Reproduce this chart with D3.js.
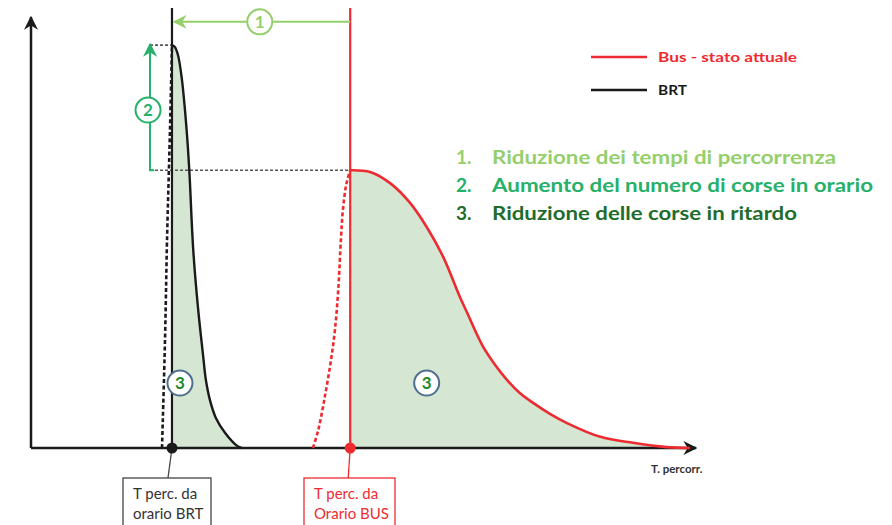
<!DOCTYPE html>
<meta charset="utf-8">
<script src="https://d3js.org/d3.v7.min.js"></script>
<style>
  body { margin: 0; background: #fff; }
  text { font-family: Lato, "Open Sans", sans-serif; }
</style>
<div id="chart"></div>
<script>
// scheduled travel times (x units) and the distributions
const brtSchedule = 21.2;
const busSchedule = 48.0;

const brtLateT = [21.2, 21.6, 22.1, 22.7, 23.4, 23.8, 24.4, 25.1, 25.9, 26.3, 26.9, 27.8, 29.2, 31.0, 31.7];
const brtLateV = [93.7, 93.3, 91.4, 85.6, 74.0, 64.7, 46.0, 32.8, 21.2, 15.8, 11.2, 7.0, 3.5, 0.5, 0];
const brtEarlyT = [19.7, 20.15, 20.45, 20.9, 21.2];
const brtEarlyV = [0, 25, 48, 74, 93.7];

const busLateT = [48.0, 51.0, 54.0, 57.0, 59.5, 62.0, 64.5, 65.6, 68.0, 69.8, 71.6, 73.5, 75.5, 78.1, 80.6, 85.6, 90.5, 95.6, 99.1];
const busLateV = [64.6, 64.2, 61.6, 57.0, 51.4, 44.4, 35.1, 31.4, 23.5, 19.3, 15.8, 12.8, 10.5, 7.9, 5.8, 2.6, 1.2, 0.2, 0];
const busEarlyT = [42.4, 43.2, 44.1, 45.0, 45.7, 46.2, 46.6, 46.9, 47.4, 48.0];
const busEarlyV = [0, 4.2, 11.2, 19.3, 27.4, 36.7, 48.4, 55.3, 61.2, 64.6];

const legendLabels = ["Bus - stato attuale", "BRT"];
const listItems = [
  ["1.", "Riduzione dei tempi di percorrenza"],
  ["2.", "Aumento del numero di corse in orario"],
  ["3.", "Riduzione delle corse in ritardo"]
];
const boxLabels = [["T perc. da", "orario BRT"], ["T perc. da", "Orario BUS"]];
const axisLabel = "T. percorr.";

const width = 892, height = 525;
const RED = "#ee2b30", BLACK = "#1a1a1a", FILL = "#d5e7d3";
const GREEN1 = "#95cf6c", GREEN2 = "#26b068", GREEN3 = "#1f6d2d";

const svg = d3.select("#chart").append("svg")
  .attr("width", width).attr("height", height);

const x = d3.scaleLinear().domain([0, 100]).range([31, 696]);
const y = d3.scaleLinear().domain([0, 100]).range([448, 18]);

const defs = svg.append("defs");
function marker(id, color, size) {
  defs.append("marker").attr("id", id)
    .attr("viewBox", "0 0 10 10").attr("refX", 9).attr("refY", 5)
    .attr("markerWidth", size).attr("markerHeight", size)
    .attr("markerUnits", "userSpaceOnUse").attr("orient", "auto")
    .append("path").attr("d", "M0,0 L10,5 L0,10 L3,5 Z").attr("fill", color);
}
marker("arrBlack", BLACK, 14);
marker("arrG1", GREEN1, 14);
marker("arrG2", GREEN2, 14);

const zip = (t, v) => t.map((d, i) => [d, v[i]]);
const smooth = d3.curveCatmullRom.alpha(0.5);
const line = d3.line().x(d => x(d[0])).y(d => y(d[1])).curve(smooth);
const area = d3.area().x(d => x(d[0])).y0(y(0)).y1(d => y(d[1])).curve(smooth);

// shaded areas (late runs)
svg.append("path").datum(zip(brtLateT, brtLateV)).attr("fill", FILL).attr("d", area);
svg.append("path").datum(zip(busLateT, busLateV)).attr("fill", FILL).attr("d", area);

// dashed helper lines for (2)
const peakBrt = d3.max(brtLateV), peakBus = d3.max(busLateV);
const arrow2X = 17.9;
svg.append("line")
  .attr("x1", x(arrow2X)).attr("x2", x(busSchedule))
  .attr("y1", y(peakBus)).attr("y2", y(peakBus))
  .attr("stroke", "#555").attr("stroke-width", 1.6).attr("stroke-dasharray", "3,2");
svg.append("line")
  .attr("x1", x(arrow2X)).attr("x2", x(brtSchedule))
  .attr("y1", y(peakBrt)).attr("y2", y(peakBrt))
  .attr("stroke", "#555").attr("stroke-width", 1.6).attr("stroke-dasharray", "3,2");

// axes
svg.append("line").attr("x1", x(0)).attr("x2", x(0)).attr("y1", y(0)).attr("y2", y(100.2))
  .attr("stroke", BLACK).attr("stroke-width", 2.5).attr("marker-end", "url(#arrBlack)");
svg.append("line").attr("x1", x(0)).attr("x2", x(100)).attr("y1", y(0)).attr("y2", y(0))
  .attr("stroke", BLACK).attr("stroke-width", 2.5).attr("marker-end", "url(#arrBlack)");

// scheduled time verticals
const topV = 102.3;
svg.append("line").attr("x1", x(brtSchedule)).attr("x2", x(brtSchedule))
  .attr("y1", y(0)).attr("y2", y(topV)).attr("stroke", BLACK).attr("stroke-width", 2.2);
svg.append("line").attr("x1", x(busSchedule)).attr("x2", x(busSchedule))
  .attr("y1", y(0)).attr("y2", y(topV)).attr("stroke", RED).attr("stroke-width", 2.2);

// distributions
svg.append("path").datum(zip(brtEarlyT, brtEarlyV)).attr("fill", "none")
  .attr("stroke", BLACK).attr("stroke-width", 2.6).attr("stroke-dasharray", "4,2.5").attr("d", line);
svg.append("path").datum(zip(busEarlyT, busEarlyV)).attr("fill", "none")
  .attr("stroke", RED).attr("stroke-width", 2.6).attr("stroke-dasharray", "4,2.5").attr("d", line);
svg.append("path").datum(zip(brtLateT, brtLateV)).attr("fill", "none")
  .attr("stroke", BLACK).attr("stroke-width", 2.4).attr("d", line);
svg.append("path").datum(zip(busLateT, busLateV)).attr("fill", "none")
  .attr("stroke", RED).attr("stroke-width", 2.6).attr("d", line);

// annotation 1: travel time reduction
const arrow1V = 99.1;
svg.append("line").attr("x1", x(busSchedule)).attr("x2", x(brtSchedule) + 2)
  .attr("y1", y(arrow1V)).attr("y2", y(arrow1V))
  .attr("stroke", GREEN1).attr("stroke-width", 2).attr("marker-end", "url(#arrG1)");
function badge(cx, cy, label, stroke, color) {
  svg.append("circle").attr("cx", cx).attr("cy", cy).attr("r", 12.5)
    .attr("fill", "#fff").attr("stroke", stroke).attr("stroke-width", 2);
  svg.append("text").attr("x", cx).attr("y", cy).attr("dy", "0.36em")
    .attr("text-anchor", "middle").attr("font-size", 17).attr("font-weight", 700)
    .attr("fill", color).text(label);
}
badge(x((busSchedule + brtSchedule) / 2 - 0.2), y(arrow1V), "1", GREEN1, GREEN1);

// annotation 2: more on-time runs
svg.append("path")
  .attr("d", `M${x(arrow2X) + 4},${y(peakBus)} H${x(arrow2X)} V${y(peakBrt) - 1}`)
  .attr("fill", "none").attr("stroke", GREEN2).attr("stroke-width", 2)
  .attr("marker-end", "url(#arrG2)");
badge(x(arrow2X) - 2, y(78.6), "2", GREEN2, GREEN2);

// annotation 3: late runs
badge(x(22.4), y(15.1), "3", "#4f6f8f", "#1f8a2a");
badge(x(59.5), y(15.1), "3", "#4f6f8f", "#1f8a2a");

// scheduled time dots + label boxes
const boxes = [
  { t: brtSchedule, color: BLACK, text: "#333", labels: boxLabels[0], bx: 123, bw: 88, lx: -4 },
  { t: busSchedule, color: RED, text: RED, labels: boxLabels[1], bx: 304, bw: 91, lx: -2 }
];
boxes.forEach(b => {
  svg.append("line").attr("x1", x(b.t)).attr("y1", y(0))
    .attr("x2", x(b.t) + b.lx).attr("y2", 478)
    .attr("stroke", b.color === BLACK ? "#444" : RED).attr("stroke-width", 1.3);
  svg.append("rect").attr("x", b.bx).attr("y", 478).attr("width", b.bw).attr("height", 60)
    .attr("fill", "#fff").attr("stroke", b.color === BLACK ? "#444" : RED).attr("stroke-width", 1.3);
  b.labels.forEach((l, i) => {
    svg.append("text").attr("x", b.bx + 10).attr("y", 499 + i * 20)
      .attr("font-size", 15).attr("fill", b.text).text(l);
  });
  svg.append("circle").attr("cx", x(b.t)).attr("cy", y(0)).attr("r", 5.5).attr("fill", b.color);
});

svg.append("text").attr("x", 651).attr("y", 473).attr("font-size", 11.5)
  .attr("font-weight", 700).attr("fill", "#333").text(axisLabel);

// legend
const legend = svg.append("g");
[RED, BLACK].forEach((c, i) => {
  const ly = 57 + i * 33;
  legend.append("line").attr("x1", 591).attr("x2", 647).attr("y1", ly).attr("y2", ly)
    .attr("stroke", c).attr("stroke-width", 2.5);
  legend.append("text").attr("x", 658).attr("y", ly).attr("dy", "0.35em")
    .attr("font-size", 13.5).attr("font-weight", 700).attr("fill", c)
    .attr("textLength", i === 0 ? 139 : 29).attr("lengthAdjust", "spacingAndGlyphs")
    .text(legendLabels[i]);
});

// numbered list
const listColors = [GREEN1, GREEN2, GREEN3];
const listLengths = [344, 381, 305];
listItems.forEach((d, i) => {
  const ly = 157 + i * 28;
  svg.append("text").attr("x", 456).attr("y", ly).attr("dy", "0.35em")
    .attr("font-size", 19).attr("font-weight", 700).attr("fill", listColors[i]).text(d[0]);
  svg.append("text").attr("x", 492).attr("y", ly).attr("dy", "0.35em")
    .attr("font-size", 19).attr("font-weight", 700).attr("fill", listColors[i])
    .attr("textLength", listLengths[i]).attr("lengthAdjust", "spacingAndGlyphs")
    .text(d[1]);
});
</script>
